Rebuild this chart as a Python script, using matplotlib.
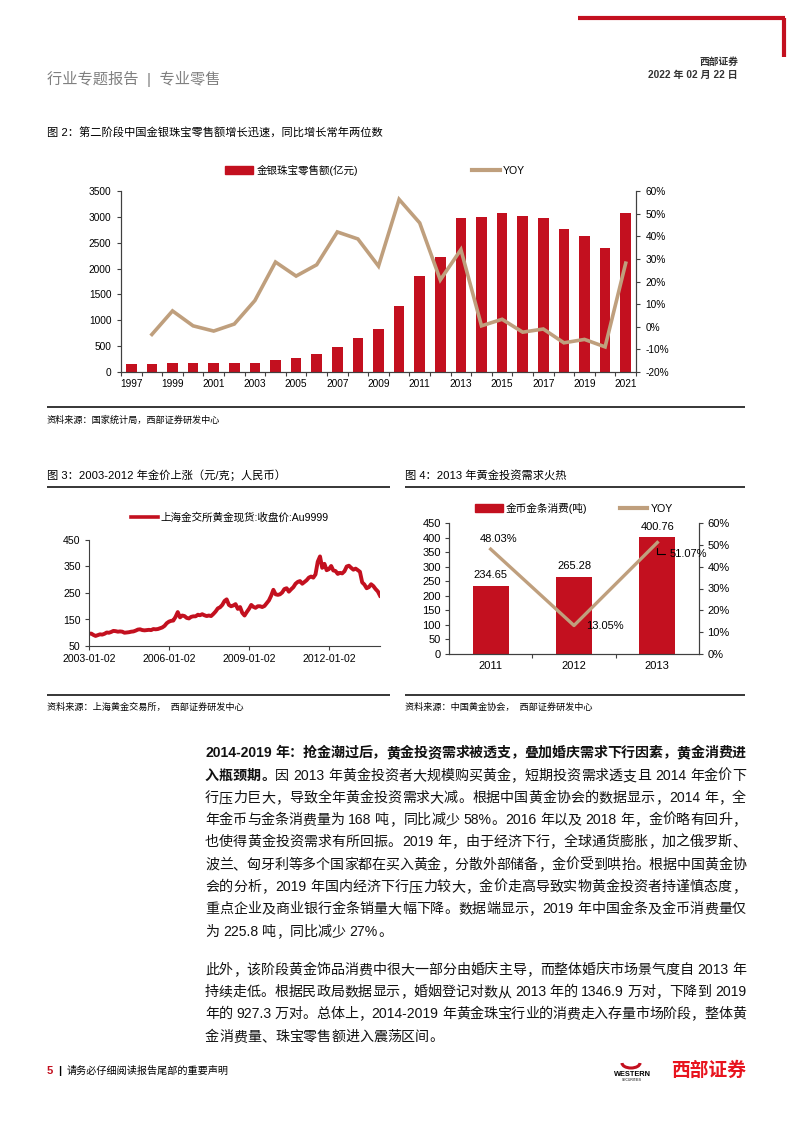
import numpy as np
import pandas as pd
import matplotlib
matplotlib.use('Agg')
import matplotlib.pyplot as plt
from matplotlib.patches import Patch, Arc
from matplotlib.lines import Line2D
from matplotlib.font_manager import FontProperties
from matplotlib.ticker import FuncFormatter, FixedLocator

W, H = 793, 1122
RED = '#C3101F'
TAN = '#BF9F7D'
FONTS = ['Liberation Sans', 'Noto Sans CJK SC']
plt.rcParams['font.family'] = FONTS
plt.rcParams['axes.unicode_minus'] = False

# ---- 图2 data: retail sales of gold/silver/jewellery (亿元) and YOY (%)
years = list(range(1997, 2022))
retail_sales = [160, 155, 165, 165, 165, 165, 180, 225, 275, 345, 480, 655, 830,
                1280, 1850, 2225, 2975, 2995, 3080, 3010, 2985, 2770, 2625, 2390, 3065]
retail_yoy = [np.nan, -3.4, 7.0, 0.4, -1.9, 1.2, 11.6, 28.6, 22.4, 27.4, 41.9, 38.8, 26.8,
              56.3, 45.9, 20.7, 34.1, 0.4, 3.3, -2.4, -1.0, -7.1, -5.6, -8.9, 28.1]

# ---- 图3 data: SGE Au9999 close (元/克), monthly readings
gold_2003 = [96, 97, 92, 88, 91, 94, 93, 96, 101, 100, 103, 107]
gold_2004 = [106, 104, 105, 104, 100, 101, 102, 104, 105, 108, 112, 113]
gold_2005 = [110, 109, 110, 111, 110, 114, 113, 114, 117, 120, 126, 136]
gold_2006 = [142, 145, 146, 160, 178, 158, 165, 163, 156, 154, 160, 162]
gold_2007 = [162, 168, 166, 170, 166, 163, 165, 163, 171, 180, 192, 196]
gold_2008 = [205, 220, 226, 205, 200, 203, 208, 190, 197, 175, 165, 178]
gold_2009 = [190, 205, 198, 194, 200, 200, 197, 201, 212, 222, 240, 262]
gold_2010 = [245, 243, 245, 252, 265, 268, 255, 264, 272, 285, 292, 295]
gold_2011 = [285, 292, 298, 308, 312, 308, 320, 368, 388, 345, 360, 336]
gold_2012 = [340, 352, 335, 333, 322, 326, 324, 332, 350, 353, 345, 338]
gold_2013 = [342, 336, 330, 290, 282, 268, 272, 283, 276, 265, 256, 240]
gold_ticks = ['2003-01-02', '2006-01-02', '2009-01-02', '2012-01-02']

# ---- 图4 data: coin & bar consumption (吨) and YOY (%)
coin_years = ['2011', '2012', '2013']
coin_tons = [234.65, 265.28, 400.76]
coin_yoy = [48.03, 13.05, 51.07]


def fx(px):
    return px / W


def fy(py):
    return 1 - py / H


fig = plt.figure(figsize=(W / 100, H / 100), dpi=100)


def hline(x0, x1, y, color='black', lw=1.1):
    fig.add_artist(Line2D([fx(x0), fx(x1)], [fy(y), fy(y)], color=color, lw=lw,
                          transform=fig.transFigure, solid_capstyle='butt'))


def ftext(x, y, s, **kw):
    kw.setdefault('va', 'center')
    fig.text(fx(x), fy(y), s, **kw)


# ---- header
fig.add_artist(Line2D([fx(578), fx(785)], [fy(18), fy(18)], color=RED, lw=3,
                      transform=fig.transFigure, solid_capstyle='butt'))
fig.add_artist(Line2D([fx(783.5), fx(783.5)], [fy(18), fy(57)], color=RED, lw=3,
                      transform=fig.transFigure, solid_capstyle='butt'))
ftext(738, 62, '西部证券', ha='right', fontsize=7, weight='bold', color='#333333')
ftext(738, 75, '2022 年 02 月 22 日', ha='right', fontsize=7.3, weight='bold', color='#333333')
ftext(47, 79, '行业专题报告  |  专业零售', ha='left', fontsize=11, color='#808080')

# ---- 图2
ftext(47, 133, '图 2：第二阶段中国金银珠宝零售额增长迅速，同比增长常年两位数', ha='left', fontsize=8.1)
ax1 = fig.add_axes([fx(121), fy(372), fx(636) - fx(121), fy(191) - fy(372)])
x = np.arange(len(years))
ax1.bar(x, retail_sales, width=0.52, color=RED, zorder=2)
ax1.set_xlim(-0.5, len(years) - 0.5)
ax1.set_ylim(0, 3500)
ax1.set_yticks(range(0, 3501, 500))
ax1.set_xticks(x[::2])
ax1.set_xticklabels([str(v) for v in years[::2]])
ax1.xaxis.set_minor_locator(FixedLocator(np.arange(-0.5, len(years), 1)))
ax2 = ax1.twinx()
ax2.plot(x, retail_yoy, color=TAN, lw=2.6, solid_joinstyle='miter')
ax2.set_ylim(-20, 60)
ax2.set_yticks(range(-20, 61, 10))
ax2.yaxis.set_major_formatter(FuncFormatter(lambda v, p: f'{v:.0f}%'))
for a in (ax1, ax2):
    a.spines['top'].set_visible(False)
    for s in a.spines.values():
        s.set_color('#404040')
        s.set_linewidth(0.8)
    a.tick_params(axis='y', length=3, width=0.8, labelsize=7.3, pad=4, color='#404040')
ax1.tick_params(axis='x', which='major', length=0, labelsize=7.3, pad=5)
ax1.tick_params(axis='x', which='minor', length=3, width=0.8, color='#404040')
fig.legend(handles=[Patch(color=RED), Line2D([], [], color=TAN, lw=3)],
           labels=['金银珠宝零售额(亿元)', 'YOY'], loc='center',
           bbox_to_anchor=(fx(375), fy(170)), ncol=2, frameon=False, fontsize=7.6,
           handlelength=2.65, handleheight=0.8, handletextpad=0.3, columnspacing=10.8,
           borderpad=0, borderaxespad=0)
hline(47, 745, 407)
ftext(47, 420, '资料来源：国家统计局，西部证券研发中心', ha='left', fontsize=6.6)

# ---- 图3
ftext(47, 475, '图 3：2003-2012 年金价上涨（元/克；人民币）', ha='left', fontsize=8.1)
ftext(405, 475, '图 4：2013 年黄金投资需求火热', ha='left', fontsize=8.1)
hline(47, 390, 487)
hline(405, 745, 487)

gold_prices = (gold_2003 + gold_2004 + gold_2005 + gold_2006 + gold_2007 + gold_2008
               + gold_2009 + gold_2010 + gold_2011 + gold_2012 + gold_2013)
gold_dates = pd.date_range('2003-01-01', periods=len(gold_prices), freq='MS')
ax3 = fig.add_axes([fx(89), fy(646), fx(380) - fx(89), fy(540) - fy(646)])
ax3.plot(gold_dates, gold_prices, color=RED, lw=2.8)
ax3.set_xlim(gold_dates[0], gold_dates[-1])
ax3.set_ylim(50, 450)
ax3.set_yticks([50, 150, 250, 350, 450])
ax3.set_xticks(pd.to_datetime(gold_ticks))
ax3.set_xticklabels(gold_ticks)
for k in ('top', 'right'):
    ax3.spines[k].set_visible(False)
for s in ax3.spines.values():
    s.set_color('#404040')
    s.set_linewidth(0.8)
ax3.tick_params(length=3, width=0.8, labelsize=7.6, pad=3, color='#404040')
fig.legend(handles=[Line2D([], [], color=RED, lw=2.6)], labels=['上海金交所黄金现货:收盘价:Au9999'],
           loc='center', bbox_to_anchor=(fx(230), fy(517)), frameon=False, fontsize=7.6,
           handlelength=2.5, handletextpad=0.3, borderpad=0, borderaxespad=0)
hline(47, 390, 695)
ftext(47, 707, '资料来源：上海黄金交易所，  西部证券研发中心', ha='left', fontsize=6.6)

# ---- 图4
ax4 = fig.add_axes([fx(449), fy(654), fx(699) - fx(449), fy(523) - fy(654)])
xc = np.arange(len(coin_years))
bars = ax4.bar(xc, coin_tons, width=0.43, color=RED)
ax4.bar_label(bars, labels=[f'{v:.2f}' for v in coin_tons], padding=4, fontsize=8)
ax4.set_xlim(-0.5, len(coin_years) - 0.5)
ax4.set_ylim(0, 450)
ax4.set_yticks(range(0, 451, 50))
ax4.set_xticks(xc)
ax4.set_xticklabels(coin_years)
ax4.xaxis.set_minor_locator(FixedLocator([0.5, 1.5]))
ax5 = ax4.twinx()
ax5.plot(xc, coin_yoy, color=TAN, lw=2.4)
ax5.set_ylim(0, 60)
ax5.set_yticks(range(0, 61, 10))
ax5.yaxis.set_major_formatter(FuncFormatter(lambda v, p: f'{v:.0f}%'))
ax5.annotate(f'{coin_yoy[0]:.2f}%', (xc[0], coin_yoy[0]), xytext=(6, 7.5),
             textcoords='offset points', ha='center', va='center', fontsize=8)
ax5.annotate(f'{coin_yoy[1]:.2f}%', (xc[1], coin_yoy[1]), xytext=(9, 0),
             textcoords='offset points', ha='left', va='center', fontsize=8)
ax5.annotate(f'{coin_yoy[2]:.2f}%', (xc[2], coin_yoy[2]), xytext=(8.5, -8.3),
             textcoords='offset points', ha='left', va='center', fontsize=8,
             arrowprops=dict(arrowstyle='-', lw=0.8, color='black', shrinkA=1, shrinkB=4,
                             connectionstyle='angle,angleA=180,angleB=90,rad=0'))
for a in (ax4, ax5):
    a.spines['top'].set_visible(False)
    for s in a.spines.values():
        s.set_color('#404040')
        s.set_linewidth(0.8)
    a.tick_params(axis='y', length=3, width=0.8, labelsize=8, pad=3, color='#404040')
ax4.tick_params(axis='x', which='major', length=0, labelsize=8, pad=5)
ax4.tick_params(axis='x', which='minor', length=3, width=0.8, color='#404040')
fig.legend(handles=[Patch(color=RED), Line2D([], [], color=TAN, lw=3)],
           labels=['金币金条消费(吨)', 'YOY'], loc='center',
           bbox_to_anchor=(fx(574), fy(508)), ncol=2, frameon=False, fontsize=7.7,
           handlelength=2.6, handleheight=0.8, handletextpad=0.3, columnspacing=3.0,
           borderpad=0, borderaxespad=0)
hline(405, 745, 695)
ftext(405, 707, '资料来源：中国黄金协会，  西部证券研发中心', ha='left', fontsize=6.6)

# ---- body text
para1 = [
    [('2014-2019 年：抢金潮过后，黄金投资需求被透支，叠加婚庆需求下行因素，黄金消费进', True)],
    [('入瓶颈期。', True), ('因 2013 年黄金投资者大规模购买黄金，短期投资需求透支且 2014 年金价下', False)],
    [('行压力巨大，导致全年黄金投资需求大减。根据中国黄金协会的数据显示，2014 年，全', False)],
    [('年金币与金条消费量为 168 吨，同比减少 58%。2016 年以及 2018 年，金价略有回升，', False)],
    [('也使得黄金投资需求有所回振。2019 年，由于经济下行，全球通货膨胀，加之俄罗斯、', False)],
    [('波兰、匈牙利等多个国家都在买入黄金，分散外部储备，金价受到哄抬。根据中国黄金协', False)],
    [('会的分析，2019 年国内经济下行压力较大，金价走高导致实物黄金投资者持谨慎态度，', False)],
    [('重点企业及商业银行金条销量大幅下降。数据端显示，2019 年中国金条及金币消费量仅', False)],
    [('为 225.8 吨，同比减少 27%。', False)],
]
para2 = [
    [('此外，该阶段黄金饰品消费中很大一部分由婚庆主导，而整体婚庆市场景气度自 2013 年', False)],
    [('持续走低。根据民政局数据显示，婚姻登记对数从 2013 年的 1346.9 万对，下降到 2019', False)],
    [('年的 927.3 万对。总体上，2014-2019 年黄金珠宝行业的消费走入存量市场阶段，整体黄', False)],
    [('金消费量、珠宝零售额进入震荡区间。', False)],
]
para1_y = [752, 775, 797, 819, 841, 864, 886, 908, 931]
para2_y = [969, 991, 1013, 1036]

rend = fig.canvas.get_renderer()
BODY_SIZE = 10.1


def text_width(s, bold):
    fp = FontProperties(family=FONTS, size=BODY_SIZE, weight='bold' if bold else 'normal')
    w1 = rend.get_text_width_height_descent('|' + s + '|', fp, ismath=False)[0]
    w0 = rend.get_text_width_height_descent('||', fp, ismath=False)[0]
    return w1 - w0


def body_line(y, parts, justify, x0=205, x1=746):
    units = []
    for txt, bold in parts:
        buf = ''
        for c in txt:
            if c.isascii() and c != ' ':
                buf += c
            else:
                if buf:
                    units.append((buf, bold))
                    buf = ''
                units.append((c, bold))
        if buf:
            units.append((buf, bold))
    widths = [text_width(u, b) for u, b in units]
    extra = (x1 - x0 - sum(widths)) / (len(units) - 1) if justify else 0
    xx = x0
    for (u, b), w in zip(units, widths):
        if u != ' ':
            fig.text(fx(xx), fy(y + 5), u, ha='left', va='baseline', fontsize=BODY_SIZE,
                     weight='bold' if b else 'normal', color='#111111')
        xx += w + extra


for i, (yy, parts) in enumerate(zip(para1_y, para1)):
    body_line(yy, parts, i < len(para1) - 1)
for i, (yy, parts) in enumerate(zip(para2_y, para2)):
    body_line(yy, parts, i < len(para2) - 1)

# ---- footer
ftext(47, 1071, '5', ha='left', fontsize=8, weight='bold', color=RED)
ftext(58, 1071, '|', ha='left', fontsize=8, weight='bold')
ftext(67, 1071, '请务必仔细阅读报告尾部的重要声明', ha='left', fontsize=7.3)
fig.add_artist(Arc((fx(631), fy(1063)), fx(18), 10 / H, theta1=180, theta2=360,
                   color=RED, lw=2.2, transform=fig.transFigure))
ftext(632, 1074, 'WESTERN', ha='center', fontsize=5.3, weight='bold')
ftext(632, 1080, 'SECURITIES', ha='center', fontsize=2.4)
ftext(746, 1071, '西部证券', ha='right', fontsize=13.5, weight='bold', color='#E8141E')

fig.savefig('out.png', dpi=100)
